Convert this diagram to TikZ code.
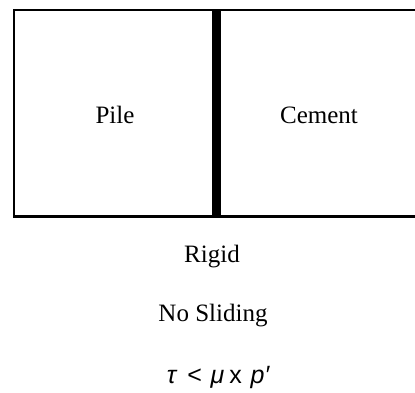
\documentclass[tikz,border=0pt]{standalone}
\usepackage{fontspec}
\setmainfont{Liberation Serif}
\newfontfamily\fsans{Liberation Sans}
\begin{document}
\begin{tikzpicture}[x=1pt,y=-1pt,
  lbl/.style={inner sep=0pt,anchor=base,font=\fontsize{25}{28}\selectfont},
  frm/.style={inner sep=0pt,anchor=base,font=\fsans\fontsize{25}{28}\selectfont}]
\useasboundingbox (0,0) rectangle (415,392);
\fill[white] (0,0) rectangle (415,392);
\draw[line width=2.4pt,line join=miter] (415,10) -- (14,10) -- (14,216.5) -- (415,216.5);
\draw[line width=9pt] (216,10) -- (216,216.5);
\node[lbl] (pile) at (115,123) {Pile};
\node[lbl] (cement) at (319,123) {Cement};
\node[lbl] (rigid) at (212,262) {Rigid};
\node[lbl] (nosl) at (213,321) {No Sliding};
\node[frm] (form) at (218,383) {\itshape τ\hspace{0.45em}\upshape <\hspace{0.35em}\itshape μ\hspace{0.2em}\upshape x\hspace{0.35em}\itshape p′};
\end{tikzpicture}
\end{document}
